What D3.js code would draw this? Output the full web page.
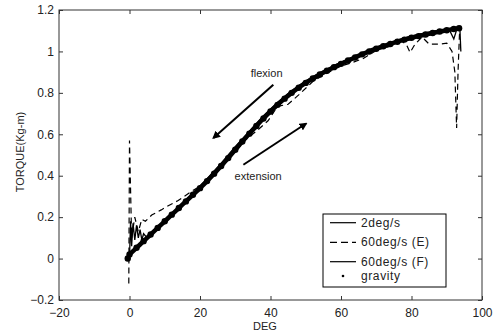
<!DOCTYPE html>
<html>
<head>
<meta charset="utf-8">
<script src="https://cdn.jsdelivr.net/npm/d3@7/dist/d3.min.js"></script>
<style>
    html, body { margin: 0; padding: 0; background: #fff; }
</style>
</head>
<body>
<script>
const fontFamily = "\"Liberation Sans\", Arial, Helvetica, sans-serif";

const width = 499;
const height = 335;
const margin = { top: 10, right: 17, bottom: 35, left: 59 };

const xTicks = [-20, 0, 20, 40, 60, 80, 100];
const yTicks = [-0.2, 0, 0.2, 0.4, 0.6, 0.8, 1, 1.2];

// 2deg/s (solid)
const slowDeg = [0, 2, 4, 6, 8, 10, 12, 14, 16, 18, 20, 22, 24, 26, 28, 30, 32, 34, 36, 38, 40, 42, 44, 46, 48, 50, 52, 54, 56, 58, 60, 62, 64, 66, 68, 70, 72, 74, 76, 78, 80, 82, 84, 86, 88, 90, 92, 93.5];
const slowTorque = [0.02, 0.052, 0.084, 0.116, 0.148, 0.18, 0.212, 0.244, 0.276, 0.308, 0.34, 0.374, 0.41, 0.447, 0.485, 0.525, 0.565, 0.603, 0.64, 0.676, 0.71, 0.742, 0.772, 0.80, 0.825, 0.848, 0.869, 0.889, 0.907, 0.924, 0.94, 0.956, 0.971, 0.986, 1.0, 1.013, 1.025, 1.036, 1.047, 1.057, 1.066, 1.074, 1.082, 1.089, 1.096, 1.102, 1.108, 1.112];

// 60deg/s (E) (dashed)
const extDeg = [-0.2, 0, 0.6, 1.5, 2.5, 3.5, 4.5, 6.3, 9, 11, 13.8, 17.2, 20, 23, 26.5, 30, 33, 36, 39.3, 42, 45, 48, 52, 56, 60, 63, 66.2, 70, 74, 77, 78.5, 79.6, 81, 83, 85, 88, 90, 91.5, 92.3, 92.8, 93.2, 93.6, 94];
const extTorque = [-0.12, 0.57, 0.1, 0.2, 0.13, 0.19, 0.18, 0.21, 0.235, 0.255, 0.28, 0.32, 0.35, 0.39, 0.45, 0.515, 0.575, 0.615, 0.665, 0.735, 0.745, 0.79, 0.855, 0.895, 0.93, 0.945, 0.965, 1.005, 1.03, 1.05, 1.035, 0.995, 1.035, 1.07, 1.035, 1.035, 1.04, 1.0, 0.9, 0.63, 0.9, 1.08, 1.12];

// 60deg/s (F) (solid)
const flexDeg = [0, 0.3, 0.6, 1, 1.5, 2, 2.5, 3, 3.5, 4, 5, 6, 8, 10, 14, 18, 22, 26, 30, 34, 38, 42, 46, 50, 54, 58, 62, 66, 70, 72, 73, 74, 76, 80, 84, 88, 90, 91, 92, 93, 93.7, 94];
const flexTorque = [0.0, 0.18, 0.06, 0.17, 0.09, 0.16, 0.10, 0.14, 0.09, 0.12, 0.10, 0.12, 0.155, 0.185, 0.25, 0.315, 0.385, 0.46, 0.54, 0.615, 0.69, 0.755, 0.81, 0.858, 0.897, 0.932, 0.963, 0.993, 1.02, 1.03, 1.02, 1.025, 1.055, 1.075, 1.09, 1.103, 1.108, 1.095, 1.06, 1.115, 1.12, 1.0];

// gravity (dots)
const gravDeg = [-0.5, 0, 2, 4, 6, 8, 10, 12, 14, 16, 18, 20, 22, 24, 26, 28, 30, 32, 34, 36, 38, 40, 42, 44, 46, 48, 50, 52, 54, 56, 58, 60, 62, 64, 66, 68, 70, 72, 74, 76, 78, 80, 82, 84, 86, 88, 90, 92, 93.5];
const gravTorque = [0.0, 0.02, 0.052, 0.084, 0.116, 0.148, 0.18, 0.212, 0.244, 0.276, 0.308, 0.34, 0.374, 0.41, 0.447, 0.485, 0.525, 0.565, 0.603, 0.64, 0.676, 0.71, 0.742, 0.772, 0.80, 0.825, 0.848, 0.869, 0.889, 0.907, 0.924, 0.94, 0.956, 0.971, 0.986, 1.0, 1.013, 1.025, 1.036, 1.047, 1.057, 1.066, 1.074, 1.082, 1.089, 1.096, 1.102, 1.108, 1.112];

const legendLabels = ["2deg/s", "60deg/s (E)", "60deg/s (F)", "gravity"];

function zip(xs, ys) {
    return xs.map((x, i) => ({ x: x, y: ys[i] }));
}

const svg = d3.select("body")
    .append("svg")
    .attr("width", width)
    .attr("height", height)
    .style("display", "block")
    .style("font-family", fontFamily);

const x = d3.scaleLinear()
    .domain([-20, 100])
    .range([margin.left, width - margin.right]);

const y = d3.scaleLinear()
    .domain([-0.2, 1.2])
    .range([height - margin.bottom, margin.top]);

const line = d3.line()
    .x(d => x(d.x))
    .y(d => y(d.y));

const smoothLine = d3.line()
    .curve(d3.curveMonotoneX)
    .x(d => x(d.x))
    .y(d => y(d.y));

function drawSeries() {
    let g = svg.append("g").classed("series", true);

    g.append("path")
        .datum(zip(extDeg, extTorque))
        .attr("d", line)
        .attr("fill", "none")
        .attr("stroke", "#000")
        .attr("stroke-width", 1.2)
        .attr("stroke-dasharray", "6,4");

    g.append("path")
        .datum(zip(flexDeg, flexTorque))
        .attr("d", line)
        .attr("fill", "none")
        .attr("stroke", "#000")
        .attr("stroke-width", 1.3);

    g.append("path")
        .datum(zip(slowDeg, slowTorque))
        .attr("d", smoothLine)
        .attr("fill", "none")
        .attr("stroke", "#000")
        .attr("stroke-width", 4.5);

    g.selectAll("circle.gravity")
        .data(zip(gravDeg, gravTorque))
        .enter()
        .append("circle")
        .classed("gravity", true)
        .attr("cx", d => x(d.x))
        .attr("cy", d => y(d.y))
        .attr("r", 3.2)
        .attr("fill", "#000");
}

function drawAxes() {
    let x0 = margin.left, x1 = width - margin.right;
    let y0 = height - margin.bottom, y1 = margin.top;

    // box
    svg.append("rect")
        .attr("x", x0)
        .attr("y", y1)
        .attr("width", x1 - x0)
        .attr("height", y0 - y1)
        .attr("fill", "none")
        .attr("stroke", "#333")
        .attr("stroke-width", 1);

    let bottom = svg.append("g")
        .attr("transform", `translate(0,${y0})`)
        .call(d3.axisBottom(x).tickValues(xTicks).tickSizeInner(-4).tickSizeOuter(0).tickPadding(8).tickFormat(d3.format("d")));
    let top = svg.append("g")
        .attr("transform", `translate(0,${y1})`)
        .call(d3.axisTop(x).tickValues(xTicks).tickSizeInner(-4).tickSizeOuter(0).tickFormat(""));
    let left = svg.append("g")
        .attr("transform", `translate(${x0},0)`)
        .call(d3.axisLeft(y).tickValues(yTicks).tickSizeInner(-4).tickSizeOuter(0).tickPadding(5).tickFormat(d => d3.format("")(+d.toFixed(1))));
    let right = svg.append("g")
        .attr("transform", `translate(${x1},0)`)
        .call(d3.axisRight(y).tickValues(yTicks).tickSizeInner(-4).tickSizeOuter(0).tickFormat(""));

    [bottom, top, left, right].forEach(a => {
        a.select(".domain").remove();
        a.selectAll("line").attr("stroke", "#333");
        a.selectAll("text")
            .attr("fill", "#222")
            .style("font-family", fontFamily)
            .style("font-size", "12px");
    });

    svg.append("text")
        .attr("x", 265)
        .attr("y", 330)
        .attr("text-anchor", "middle")
        .attr("font-size", 11)
        .attr("fill", "#222")
        .text("DEG");

    svg.append("text")
        .attr("transform", "translate(24,152) rotate(-90)")
        .attr("text-anchor", "middle")
        .attr("font-size", 11)
        .attr("fill", "#222")
        .text("TORQUE(Kg-m)");
}

function drawAnnotations() {
    svg.append("defs")
        .append("marker")
        .attr("id", "head")
        .attr("viewBox", "0 0 10 10")
        .attr("refX", 8)
        .attr("refY", 5)
        .attr("markerWidth", 4)
        .attr("markerHeight", 4)
        .attr("orient", "auto")
        .append("path")
        .attr("d", "M0,0L10,5L0,10Z")
        .attr("fill", "#000");

    svg.append("line")
        .attr("x1", x(40.8)).attr("y1", y(0.839))
        .attr("x2", x(23.8)).attr("y2", y(0.582))
        .attr("stroke", "#000")
        .attr("stroke-width", 2)
        .attr("marker-end", "url(#head)");

    svg.append("line")
        .attr("x1", x(32.3)).attr("y1", y(0.453))
        .attr("x2", x(50.1)).attr("y2", y(0.652))
        .attr("stroke", "#000")
        .attr("stroke-width", 2)
        .attr("marker-end", "url(#head)");

    svg.append("text")
        .attr("x", x(38.9)).attr("y", y(0.875))
        .attr("text-anchor", "middle")
        .attr("font-size", 11)
        .attr("fill", "#222")
        .text("flexion");

    svg.append("text")
        .attr("x", x(36.5)).attr("y", y(0.38))
        .attr("text-anchor", "middle")
        .attr("font-size", 11)
        .attr("fill", "#222")
        .text("extension");
}

function drawLegend() {
    let g = svg.append("g").attr("transform", "translate(323,214)");
    g.append("rect")
        .attr("width", 123)
        .attr("height", 73)
        .attr("fill", "#fff")
        .attr("stroke", "#000")
        .attr("stroke-width", 1);

    let rows = [8.7, 28.3, 47.7, 62];
    legendLabels.forEach((label, i) => {
        if (i < 3) {
            g.append("line")
                .attr("x1", 7).attr("x2", 33)
                .attr("y1", rows[i]).attr("y2", rows[i])
                .attr("stroke", "#000")
                .attr("stroke-width", 1.2)
                .attr("stroke-dasharray", i === 1 ? "7,4" : null);
        }
        else {
            g.append("circle")
                .attr("cx", 20).attr("cy", rows[i])
                .attr("r", 1.3)
                .attr("fill", "#000");
        }
        g.append("text")
            .attr("x", 38)
            .attr("y", rows[i] + 4)
            .attr("font-size", 12)
            .attr("letter-spacing", 0.6)
            .attr("fill", "#222")
            .text(label);
    });
}

drawSeries();
drawAxes();
drawAnnotations();
drawLegend();
</script>
</body>
</html>
